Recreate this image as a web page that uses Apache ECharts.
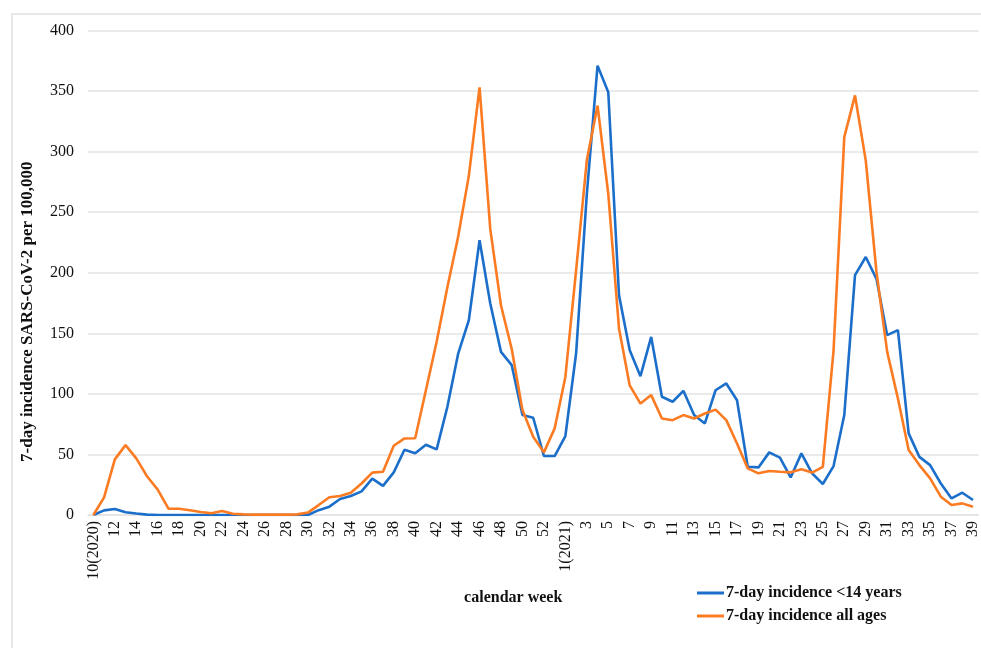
<!DOCTYPE html>
<html>
<head>
<meta charset="utf-8">
<script src="https://cdn.jsdelivr.net/npm/echarts@6/dist/echarts.min.js"></script>
<style>
  html, body { margin: 0; padding: 0; background: #fff; }
  #chart { width: 981px; height: 648px; }
</style>
</head>
<body>
<div id="chart"></div>
<script>
// calendar weeks 10/2020 .. 53/2020, then 1/2021 .. 39/2021
const weeks = [
  '10(2020)', '11', '12', '13', '14', '15', '16', '17', '18', '19', '20', '21', '22', '23', '24', '25',
  '26', '27', '28', '29', '30', '31', '32', '33', '34', '35', '36', '37', '38', '39', '40', '41',
  '42', '43', '44', '45', '46', '47', '48', '49', '50', '51', '52', '53',
  '1(2021)', '2', '3', '4', '5', '6', '7', '8', '9', '10', '11', '12', '13', '14', '15', '16',
  '17', '18', '19', '20', '21', '22', '23', '24', '25', '26', '27', '28', '29', '30', '31', '32',
  '33', '34', '35', '36', '37', '38', '39'
]

const under14 = [
  0, 3.8, 5, 2.3, 1.2, 0.3, 0, 0, 0, 0, 0, 0, 0, 0, 0, 0,
  0, 0, 0, 0, 0, 4, 6.9, 13.2, 15.7, 19.5, 30, 24, 35.2, 53.9, 50.9, 58,
  54.2, 89.3, 133, 160.8, 226.8, 174.6, 134.7, 123.7, 82.5, 80.3, 48.7, 48.7,
  65.2, 133.3, 265, 371, 349, 181.4, 136, 114.6, 147, 97.6, 93.5, 102.5, 82.5, 75.6, 103, 108.6,
  94.8, 39.8, 39.3, 51.7, 47.3, 31, 50.9, 34.4, 25.6, 40.4, 82.5, 198, 213, 195, 148.5, 152.6,
  67.4, 48, 41.2, 26, 13.7, 18.4, 12.4
]

const allAges = [
  0, 14.6, 45.9, 57.7, 46.7, 32, 21, 5.2, 5.2, 3.9, 2.5, 1.5, 3.3, 1, 0.5, 0.3,
  0.3, 0.3, 0.3, 0.5, 2, 8.2, 14.6, 15.7, 18.4, 26, 35, 35.7, 57.2, 63.2, 63.4, 103,
  143, 188, 229.5, 280, 353, 236, 173, 137, 86.6, 64.6, 51.7, 71.5,
  114, 202, 292.8, 338, 265, 154, 107, 92, 99, 79.7, 78.3, 82.5, 79.7, 83.8, 87, 78.3,
  59, 38.5, 34.4, 36.3, 35.7, 35.2, 37.7, 35, 39.8, 136, 312, 346.4, 292.8, 200.7, 134.7, 96.2,
  53.6, 41.2, 30.2, 15.1, 8.2, 9.6, 6.9
]

const seriesNames = ['7-day incidence <14 years', '7-day incidence all ages']
const yTicks = { min: 0, max: 400, interval: 50 }

const serif = '"Liberation Serif", "DejaVu Serif", serif'

const chart = echarts.init(document.getElementById('chart'))

chart.setOption({
  backgroundColor: '#fff',
  animation: false,
  grid: { left: 88, right: 0, top: 30.5, bottom: 133 },
  graphic: [
    {
      type: 'rect',
      shape: { x: 12, y: 14, width: 1000, height: 700 },
      style: { fill: 'none', stroke: '#e8e8e8', lineWidth: 2 },
      silent: true
    }
  ],
  legend: {
    orient: 'vertical',
    left: 692,
    top: 580,
    itemGap: 7,
    itemWidth: 27,
    itemHeight: 3,
    icon: 'rect',
    data: seriesNames,
    textStyle: { fontFamily: serif, fontWeight: 'bold', fontSize: 16, color: '#111', padding: [0, 0, 0, -3] }
  },
  xAxis: {
    type: 'category',
    data: weeks,
    boundaryGap: true,
    name: 'calendar week',
    nameLocation: 'middle',
    nameGap: 75,
    nameTextStyle: { fontFamily: serif, fontWeight: 'bold', fontSize: 16, color: '#111', padding: [0, 40, 0, 0] },
    axisLine: { lineStyle: { color: '#e3e3e3', width: 1.5 } },
    axisTick: { show: false },
    axisLabel: {
      interval: 1,
      rotate: 90,
      margin: 6,
      fontFamily: serif,
      fontSize: 16,
      color: '#111'
    },
    splitLine: { show: false }
  },
  yAxis: {
    type: 'value',
    min: yTicks.min,
    max: yTicks.max,
    interval: yTicks.interval,
    name: '7-day incidence SARS-CoV-2 per 100,000',
    nameLocation: 'middle',
    nameGap: 52,
    nameTextStyle: { fontFamily: serif, fontWeight: 'bold', fontSize: 17, color: '#111', padding: [0, 78, 0, 0] },
    axisLine: { show: false },
    axisTick: { show: false },
    axisLabel: { fontFamily: serif, fontSize: 16, color: '#111', margin: 14 },
    splitLine: { lineStyle: { color: '#e3e3e3', width: 1.5 } }
  },
  series: [
    {
      name: seriesNames[0],
      type: 'line',
      data: under14,
      showSymbol: false,
      itemStyle: { color: '#1b6fca' },
      lineStyle: { color: '#1b6fca', width: 2.6 }
    },
    {
      name: seriesNames[1],
      type: 'line',
      data: allAges,
      showSymbol: false,
      itemStyle: { color: '#fb7b22' },
      lineStyle: { color: '#fb7b22', width: 2.6 }
    }
  ]
})
</script>
</body>
</html>
